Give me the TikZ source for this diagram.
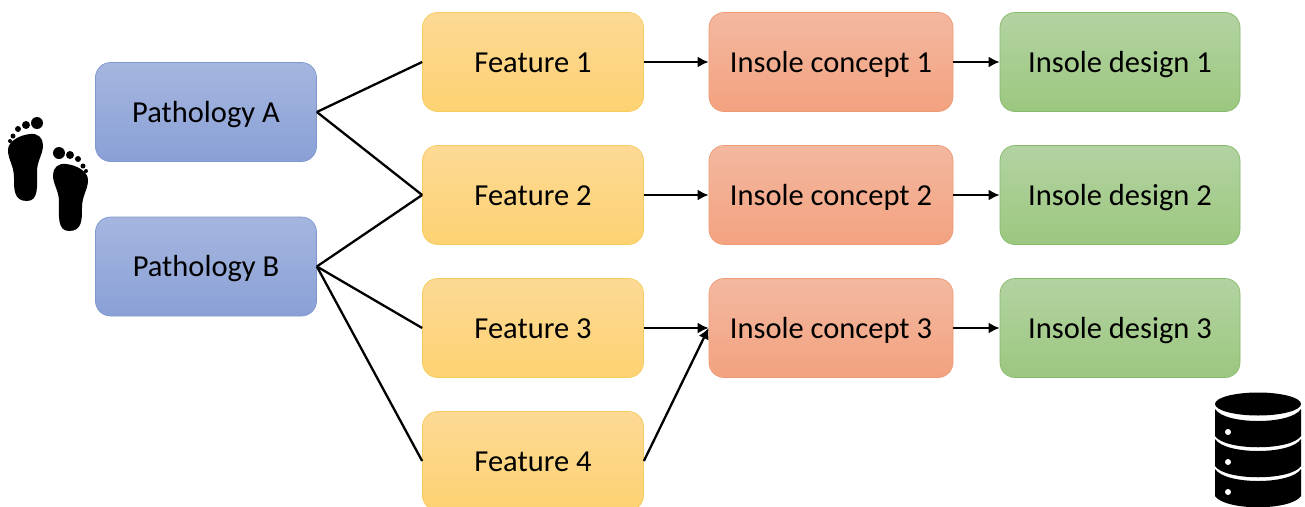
\documentclass[tikz,border=0pt]{standalone}
\usepackage{fontspec}
\usetikzlibrary{arrows.meta}
\setmainfont{Carlito}
\begin{document}
\begin{tikzpicture}[x=1pt,y=-1pt]
  \definecolor{pathT}{HTML}{A5B6DF}\definecolor{pathB}{HTML}{8AA0D6}\definecolor{pathD}{HTML}{7F97CF}
  \definecolor{featT}{HTML}{FDD995}\definecolor{featB}{HTML}{FDD272}\definecolor{featD}{HTML}{F6CC5E}
  \definecolor{concT}{HTML}{F3B8A0}\definecolor{concB}{HTML}{F3A27F}\definecolor{concD}{HTML}{EE9A74}
  \definecolor{dsgnT}{HTML}{B3D3A2}\definecolor{dsgnB}{HTML}{9CC77F}\definecolor{dsgnD}{HTML}{86B96A}
  \tikzstyle{box}=[rounded corners=15pt, draw, line width=0.7pt, font=\fontsize{30.5}{34}\selectfont, text=black, text height=25pt, text depth=5pt, shading=axis, shading angle=0, minimum height=99pt]
  \tikzstyle{pathbox}=[box, draw=pathD, bottom color=pathB, top color=pathT, minimum width=221pt]
  \tikzstyle{featbox}=[box, draw=featD, bottom color=featB, top color=featT, minimum width=221pt]
  \tikzstyle{concbox}=[box, draw=concD, bottom color=concB, top color=concT, minimum width=244pt]
  \tikzstyle{dsgnbox}=[box, draw=dsgnD, bottom color=dsgnB, top color=dsgnT, minimum width=240pt]
  \tikzstyle{link}=[line width=2.3pt, black]
  \tikzstyle{arrow}=[link, -{Latex[length=11pt,width=11pt]}]

  \useasboundingbox (0,0) rectangle (1305,506);

  \node[pathbox] (pathA) at (206,  112)   {Pathology A};
  \node[pathbox] (pathB) at (206,  266.5) {Pathology B};

  \node[featbox] (feat1) at (533,  62)  {Feature 1};
  \node[featbox] (feat2) at (533,  195) {Feature 2};
  \node[featbox] (feat3) at (533,  328) {Feature 3};
  \node[featbox] (feat4) at (533,  461) {Feature 4};

  \node[concbox] (conc1) at (831,  62)  {Insole concept 1};
  \node[concbox] (conc2) at (831,  195) {Insole concept 2};
  \node[concbox] (conc3) at (831,  328) {Insole concept 3};

  \node[dsgnbox] (dsgn1) at (1120, 62)  {Insole design 1};
  \node[dsgnbox] (dsgn2) at (1120, 195) {Insole design 2};
  \node[dsgnbox] (dsgn3) at (1120, 328) {Insole design 3};

  \path[link] (pathA.east) edge (feat1.west);
  \path[link] (pathA.east) edge (feat2.west);
  \path[link] (pathB.east) edge (feat2.west);
  \path[link] (pathB.east) edge (feat3.west);
  \path[link] (pathB.east) edge (feat4.west);

  \path[arrow] (feat1) edge (conc1);
  \path[arrow] (feat2) edge (conc2);
  \path[arrow] (feat3) edge (conc3);
  \path[arrow] (feat4.east) edge (conc3.west);

  \path[arrow] (conc1) edge (dsgn1);
  \path[arrow] (conc2) edge (dsgn2);
  \path[arrow] (conc3) edge (dsgn3);

  % feet
  \foreach \fx/\fy/\s in {0/0/1, 96/30/-1} {
    \begin{scope}[shift={(\fx,\fy)}, xscale=\s]
      \fill (30,134) .. controls (38,133) and (43,138) .. (43,145)
        .. controls (43,155) and (37,160) .. (37,172)
        .. controls (37,185) and (39,201) .. (27,201)
        .. controls (14,201) and (14,190) .. (14,178)
        .. controls (14,165) and (8,160) .. (8,150)
        .. controls (8,141) and (20,135) .. (30,134) -- cycle;
      \fill (37,123) circle (6pt);
      \fill (26,125) circle (4pt);
      \fill (18,129) circle (3pt);
      \fill (13,136) circle (2.5pt);
      \fill (10,141) circle (2pt);
    \end{scope}
  }

  % database
  \fill (1258,404) ellipse (43pt and 11.5pt);
  \foreach \y in {0,30,60} {
    \begin{scope}[yshift=-\y]
      \fill (1215,409) .. controls (1225,425) and (1291,425) .. (1301,409) -- (1301,436)
        .. controls (1291,451) and (1225,451) .. (1215,436) -- cycle;
      \fill[white] (1228,432) circle (3pt);
    \end{scope}
  }
\end{tikzpicture}
\end{document}
